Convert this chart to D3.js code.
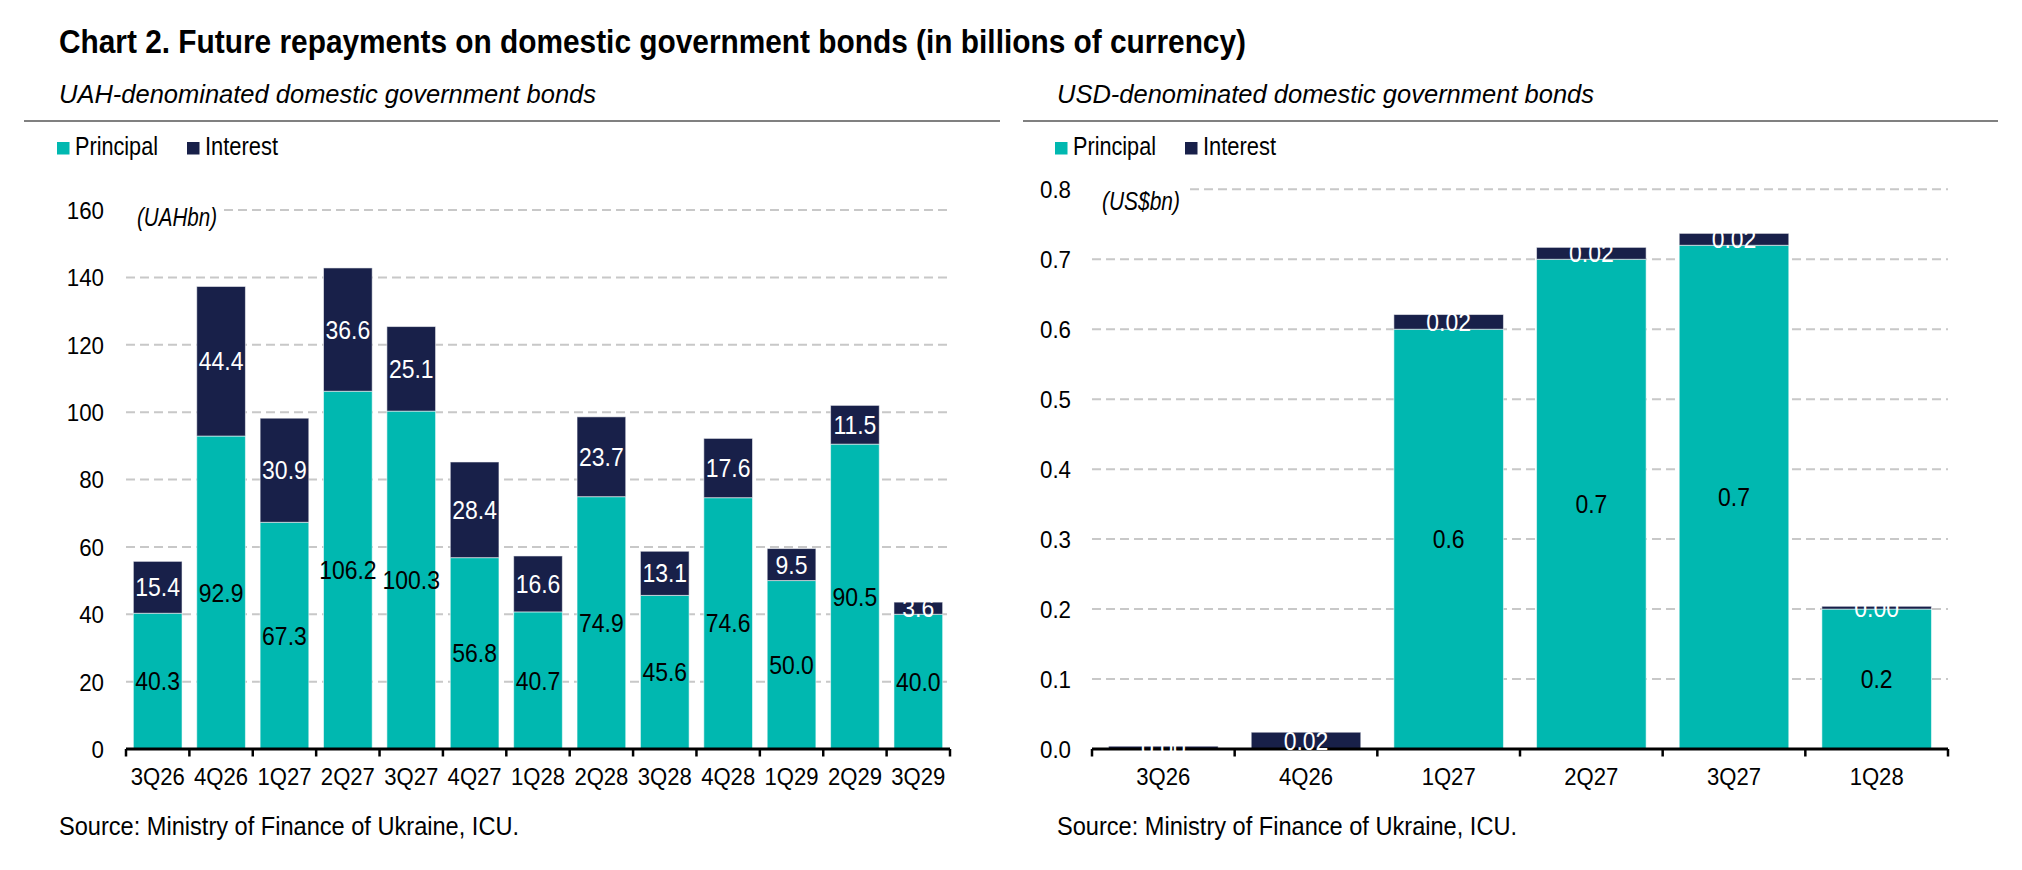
<!DOCTYPE html>
<html>
<head>
<meta charset="utf-8">
<script src="https://cdn.jsdelivr.net/npm/d3@7"></script>
<style>
  html, body { margin: 0; padding: 0; background: #ffffff; }
  svg { display: block; }
  text { font-family: "Liberation Sans", Arial, sans-serif; }
</style>
</head>
<body>
<svg id="chart" width="2022" height="870"></svg>
<script>
// ---------------- DATA ----------------
const chartTitle = "Chart 2. Future repayments on domestic government bonds (in billions of currency)";
const sourceText = "Source: Ministry of Finance of Ukraine, ICU.";
const seriesNames = ["Principal", "Interest"];

const uahSubtitle = "UAH-denominated domestic government bonds";
const uahUnit = "(UAHbn)";
const uahCategories = ["3Q26","4Q26","1Q27","2Q27","3Q27","4Q27","1Q28","2Q28","3Q28","4Q28","1Q29","2Q29","3Q29"];
const uahPrincipal = [40.3, 92.9, 67.3, 106.2, 100.3, 56.8, 40.7, 74.9, 45.6, 74.6, 50.0, 90.5, 40.0];
const uahInterest  = [15.4, 44.4, 30.9, 36.6, 25.1, 28.4, 16.6, 23.7, 13.1, 17.6, 9.5, 11.5, 3.6];
const uahTicks = [0, 20, 40, 60, 80, 100, 120, 140, 160];

const usdSubtitle = "USD-denominated domestic government bonds";
const usdUnit = "(US$bn)";
const usdCategories = ["3Q26","4Q26","1Q27","2Q27","3Q27","1Q28"];
const usdPrincipal = [0, 0, 0.60, 0.70, 0.72, 0.20];
const usdInterest  = [0.004, 0.024, 0.021, 0.017, 0.017, 0.004];
const usdTicks = [0, 0.1, 0.2, 0.3, 0.4, 0.5, 0.6, 0.7, 0.8];

// ---------------- STYLE / LAYOUT ----------------
const COLORS = { principal: "#00B8B0", interest: "#182049", grid: "#c8c8c8", rule: "#808080" };

const svg = d3.select("#chart");
svg.append("rect").attr("width", 2022).attr("height", 870).attr("fill", "#fff");

function txt(g, o) {
  const t = g.append("text")
    .attr("x", o.x).attr("y", o.y)
    .attr("font-size", o.size)
    .attr("font-weight", o.weight || "normal")
    .attr("font-style", o.style || "normal")
    .attr("text-anchor", o.anchor || "start")
    .attr("fill", o.fill || "#000")
    .text(o.text);
  const node = t.node();
  const w = node.getComputedTextLength();
  let target = null;
  if (o.width) target = o.width;
  else if (o.condense) target = w * o.condense;
  if (target) {
    t.attr("textLength", target).attr("lengthAdjust", "spacingAndGlyphs");
  }
  return t;
}

// Title
txt(svg, { x: 59, y: 53, text: chartTitle, size: 33.5, weight: "bold", width: 1187 });

function panel(cfg) {
  const g = svg.append("g");

  // subtitle + rule
  txt(g, { x: cfg.subX, y: 103, text: cfg.subtitle, size: 26, style: "italic", width: 537 });
  g.append("line").attr("x1", cfg.rule[0]).attr("x2", cfg.rule[1])
    .attr("y1", 121).attr("y2", 121).attr("stroke", COLORS.rule).attr("stroke-width", 1.8);

  // legend
  const lx = cfg.legendX;
  const legendItems = [
    { name: seriesNames[0], color: COLORS.principal, dx: 0, w: 83 },
    { name: seriesNames[1], color: COLORS.interest, dx: 130, w: 73 }
  ];
  legendItems.forEach(it => {
    g.append("rect").attr("x", lx + it.dx).attr("y", 142).attr("width", 12.5).attr("height", 12.5).attr("fill", it.color);
    txt(g, { x: lx + it.dx + 18, y: 155, text: it.name, size: 26, width: it.w });
  });

  // scales
  const x = d3.scaleBand().domain(cfg.categories).range(cfg.xRange).paddingInner(0.232).paddingOuter(0.116);
  const y = d3.scaleLinear().domain([0, cfg.ticks[cfg.ticks.length - 1]]).range(cfg.yRange);

  // gridlines
  g.append("g").selectAll("line").data(cfg.ticks.filter(d => d > 0)).join("line")
    .attr("x1", cfg.xRange[0]).attr("x2", cfg.xRange[1])
    .attr("y1", d => y(d)).attr("y2", d => y(d))
    .attr("stroke", COLORS.grid).attr("stroke-width", 2).attr("stroke-dasharray", "9,5");

  // unit label with white backing
  const top = cfg.ticks[cfg.ticks.length - 1];
  g.append("rect").attr("x", cfg.xRange[0] - 4).attr("y", y(top) - 4)
    .attr("width", cfg.unitBoxW).attr("height", 8).attr("fill", "#fff");
  txt(g, { x: cfg.unitX, y: y(top) + cfg.unitDy, text: cfg.unit, size: 25, style: "italic", width: cfg.unitW });

  // y axis labels via d3 axis
  const yAxis = d3.axisLeft(y).tickValues(cfg.ticks).tickSize(0).tickPadding(0).tickFormat(d3.format(cfg.tickFmt));
  const ya = g.append("g").attr("transform", `translate(${cfg.tickRight},0)`).call(yAxis);
  ya.select(".domain").remove();
  ya.selectAll("text").attr("font-size", 23.5).attr("fill", "#000")
    .attr("font-family", "Liberation Sans, Arial, sans-serif")
    .attr("dy", "0.36em")
    .each(function() {
      const w = this.getComputedTextLength();
      d3.select(this).attr("textLength", w * 0.95).attr("lengthAdjust", "spacingAndGlyphs");
    });

  // stacked bars
  const rows = cfg.categories.map((c, i) => ({ cat: c, principal: cfg.principal[i], interest: cfg.interest[i] }));
  const stack = d3.stack().keys(["principal", "interest"])(rows);
  const layers = g.append("g").selectAll("g").data(stack).join("g")
    .attr("fill", d => COLORS[d.key]);
  layers.selectAll("rect").data(d => d).join("rect")
    .attr("x", d => x(d.data.cat))
    .attr("width", x.bandwidth())
    .attr("y", d => y(d[1]))
    .attr("height", d => Math.max(0, y(d[0]) - y(d[1])))
    .attr("stroke", "rgba(255,255,255,0.55)").attr("stroke-width", 1);

  // x axis: line + boundary ticks (Excel style)
  const ax = g.append("g");
  const step = x.step();
  const x0 = cfg.xRange[0];
  const bounds = d3.range(cfg.categories.length + 1).map(i => x0 + i * step);
  ax.append("line").attr("x1", cfg.xRange[0]).attr("x2", cfg.xRange[1])
    .attr("y1", y(0)).attr("y2", y(0)).attr("stroke", "#000").attr("stroke-width", 3);
  ax.selectAll("line.tk").data(bounds).join("line").attr("class", "tk")
    .attr("x1", d => d).attr("x2", d => d).attr("y1", y(0)).attr("y2", y(0) + 7.5)
    .attr("stroke", "#000").attr("stroke-width", 2.5);

  // category labels via d3 axis
  const xAxis = d3.axisBottom(x).tickSize(0).tickPadding(0);
  const xa = g.append("g").attr("transform", `translate(0,785)`).call(xAxis);
  xa.select(".domain").remove();
  xa.selectAll("text").attr("font-size", 24).attr("fill", "#000").attr("dy", 0)
    .attr("font-family", "Liberation Sans, Arial, sans-serif")
    .each(function() {
      const w = this.getComputedTextLength();
      d3.select(this).attr("textLength", w * 0.92).attr("lengthAdjust", "spacingAndGlyphs");
    });

  // data labels
  const lblFs = 25.5;
  stack.forEach(layer => {
    const isInt = layer.key === "interest";
    const fmt = d3.format(isInt ? cfg.intFmt : ".1f");
    layer.forEach(d => {
      const v = d[1] - d[0];
      if (v <= 0) return;
      const cy = (y(d[0]) + y(d[1])) / 2 + 0.358 * lblFs;
      txt(g, {
        x: x(d.data.cat) + x.bandwidth() / 2, y: cy, text: fmt(v), size: lblFs,
        anchor: "middle", fill: isInt ? "#ffffff" : "#000000", condense: 0.9
      });
    });
  });

  // source
  txt(g, { x: cfg.subX, y: 835, text: sourceText, size: 25, width: 460 });
}

panel({
  subtitle: uahSubtitle, unit: uahUnit, categories: uahCategories,
  principal: uahPrincipal, interest: uahInterest, ticks: uahTicks,
  xRange: [126, 950], yRange: [749, 210],
  subX: 59, rule: [24, 1000], legendX: 57,
  unitX: 137, unitDy: 16, unitW: 80, unitBoxW: 100,
  tickRight: 104, tickFmt: "d", intFmt: ".1f"
});

panel({
  subtitle: usdSubtitle, unit: usdUnit, categories: usdCategories,
  principal: usdPrincipal, interest: usdInterest, ticks: usdTicks,
  xRange: [1092, 1948], yRange: [749, 189.3],
  subX: 1057, rule: [1023, 1998], legendX: 1055,
  unitX: 1102, unitDy: 21, unitW: 78, unitBoxW: 100,
  tickRight: 1071, tickFmt: ".1f", intFmt: ".2f"
});
</script>
</body>
</html>
